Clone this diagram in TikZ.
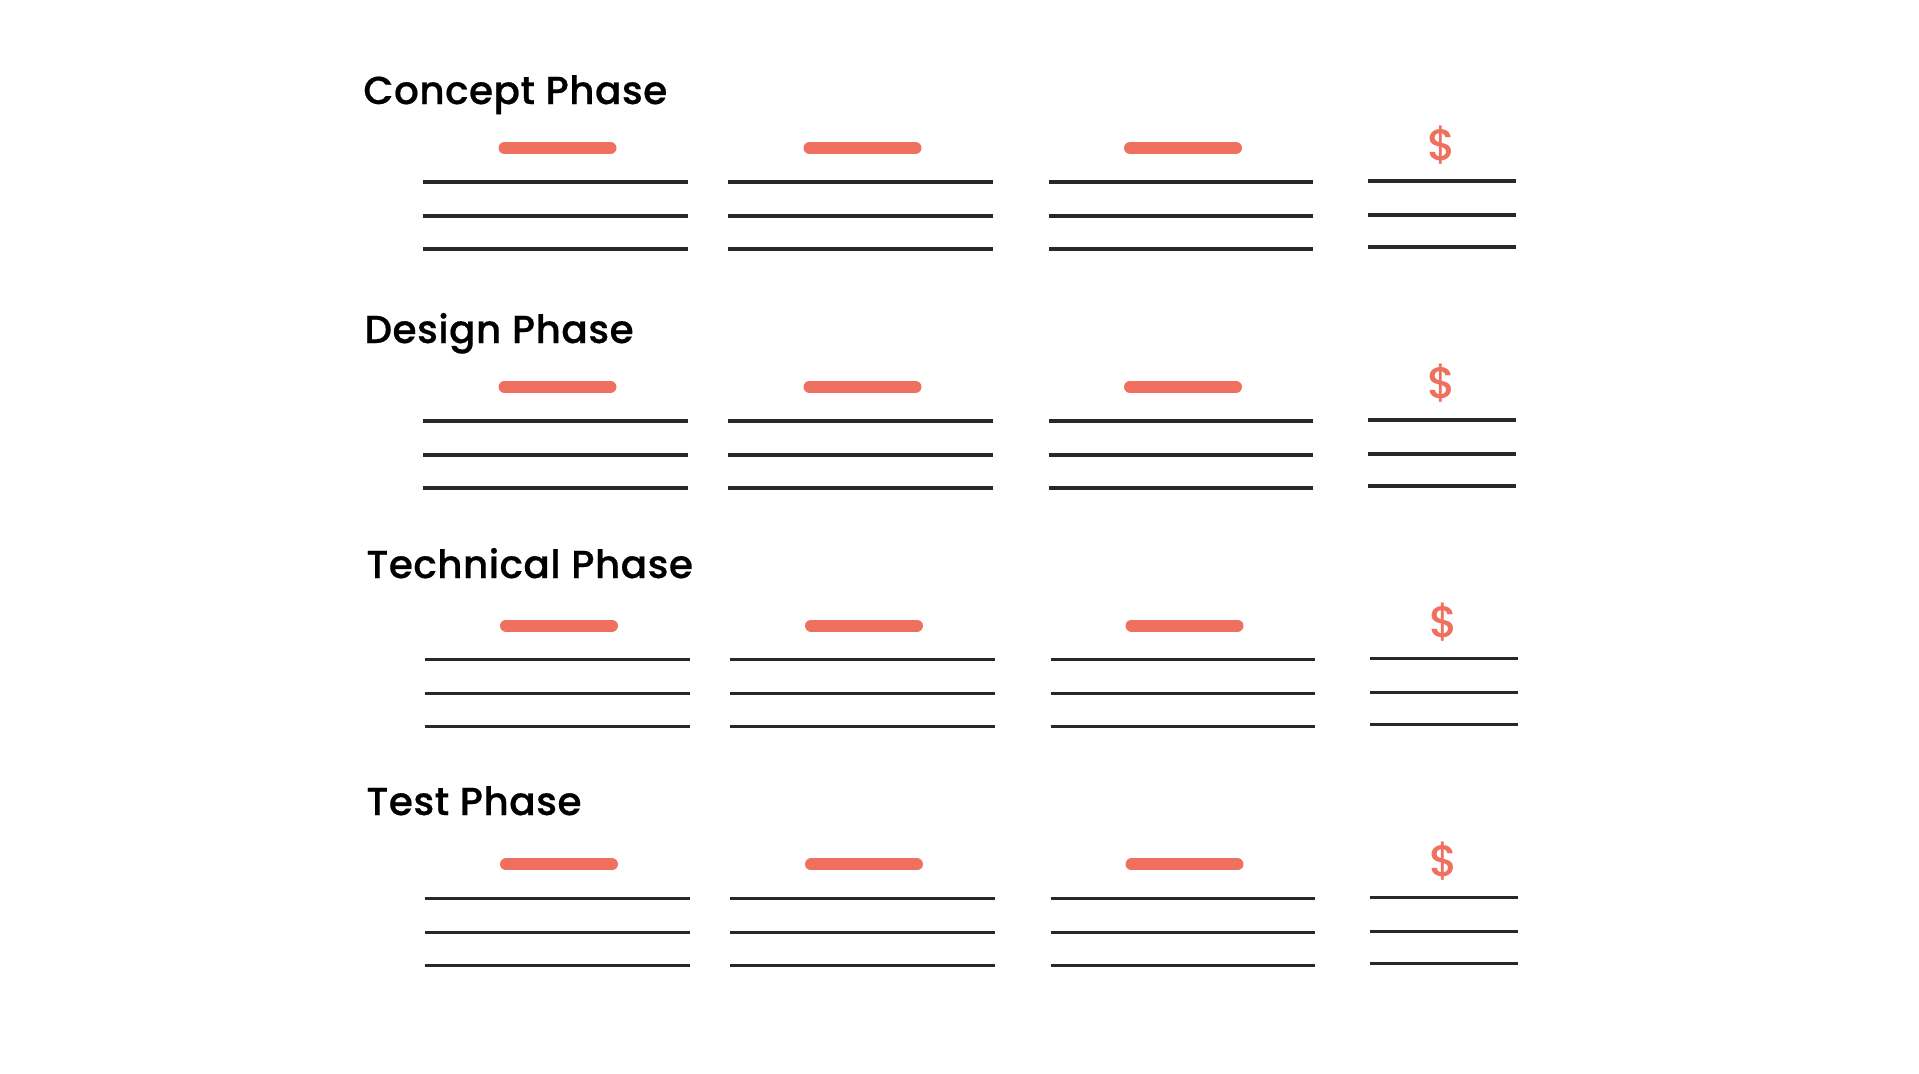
\documentclass[tikz,border=0pt]{standalone}
\usepackage{fontspec}
\setmainfont{Poppins}
\newfontfamily\titlefont{Poppins Medium}[LetterSpace=1.2,FakeBold=0.5]
\newfontfamily\dollarfont{Poppins Medium}
\definecolor{accent}{RGB}{240,112,96}
\definecolor{rule}{RGB}{40,40,40}
\tikzset{
  phasetitle/.style={anchor=base west, inner sep=0pt, font=\titlefont\fontsize{19.5}{20}\selectfont, text=black},
  accentbar/.style={draw=accent, line width=6pt, line cap=round},
  ruleline/.style={draw=rule, line width=1.7pt},
  dollar/.style={anchor=base, inner sep=0pt, text=accent, font=\dollarfont\fontsize{22}{24}\selectfont}
}
\begin{document}
\begin{tikzpicture}[x=0.5pt,y=-0.5pt]
\useasboundingbox[fill=white] (0,0) rectangle (1919,1073);
\foreach \r/\name/\tx/\ty/\dx in {0/Concept Phase/363/104/0, 1/Design Phase/364/343/0, 2/Technical Phase/366/578/1.5, 3/Test Phase/366/815/1.5}{
  \pgfmathsetmacro{\dy}{238.8*\r}
  \node[phasetitle] (title\r) at (\tx,\ty) {\name};
  \foreach \c/\xa/\xb/\xc in {1/423/688/557.5, 2/728/993/862.5, 3/1049/1313/1183}{
    \draw[accentbar] (\xc-53+\dx,148+\dy) -- (\xc+53+\dx,148+\dy);
    \foreach \ly in {182,216,249}{
      \draw[ruleline] (\xa+\dx,\ly+\dy) -- (\xb+\dx,\ly+\dy);
    }
  }
  \node[dollar] (dollar\r) at (1442+\dx,160+\dy) {\$};
  \foreach \ly in {181,215,247}{
    \draw[ruleline] (1368+\dx,\ly+\dy) -- (1516+\dx,\ly+\dy);
  }
}
\end{tikzpicture}
\end{document}
